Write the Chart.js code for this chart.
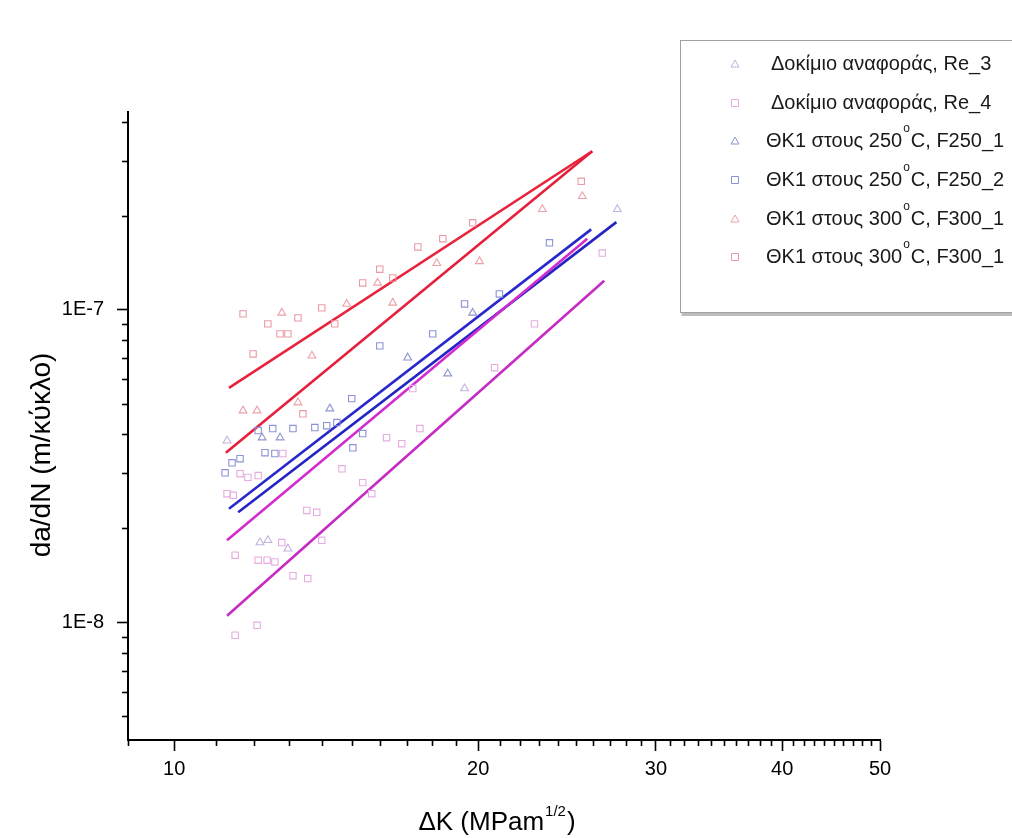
<!DOCTYPE html>
<html>
<head>
<meta charset="utf-8">
<script src="https://cdn.jsdelivr.net/npm/chart.js@4.4.0/dist/chart.umd.min.js"></script>
<style>
  html, body { margin: 0; padding: 0; background: #fff; }
  #wrap { width: 1012px; height: 838px; position: relative; overflow: hidden; }
</style>
</head>
<body>
<div id="wrap"><canvas id="c" width="1012" height="838"></canvas></div>
<script>
// Series names (legend order)
const seriesLabels = [
  'Δοκίμιο αναφοράς, Re_3',
  'Δοκίμιο αναφοράς, Re_4',
  'ΘΚ1 στους 250°C, F250_1',
  'ΘΚ1 στους 250°C, F250_2',
  'ΘΚ1 στους 300°C, F300_1',
  'ΘΚ1 στους 300°C, F300_1'
];

// Measured crack growth rates: ΔK (MPa·m^1/2) and da/dN (m/cycle)
const re3DK   = [11.28, 12.16, 12.38, 12.96, 19.39, 27.47];
const re3Rate = [3.81e-8, 1.80e-8, 1.83e-8, 1.72e-8, 5.60e-8, 2.10e-7];

const re4DK   = [11.28, 11.44, 11.62, 11.83, 12.11, 12.81, 13.53, 13.84, 11.49, 12.78, 12.11, 12.36, 12.58, 13.11,
                 13.56, 14.00, 11.49, 12.08, 14.66, 15.37, 15.69, 16.23, 16.80, 17.23, 17.51, 20.76, 22.74, 26.54];
const re4Rate = [2.58e-8, 2.55e-8, 2.99e-8, 2.91e-8, 2.95e-8, 3.47e-8, 2.28e-8, 2.25e-8, 1.64e-8, 1.80e-8, 1.58e-8, 1.58e-8, 1.56e-8, 1.41e-8,
                 1.38e-8, 1.83e-8, 9.09e-9, 9.78e-9, 3.10e-8, 2.80e-8, 2.58e-8, 3.90e-8, 3.73e-8, 5.60e-8, 4.17e-8, 6.53e-8, 9.02e-8, 1.52e-7];

const f2501DK   = [12.22, 12.73, 14.26, 17.03, 18.66, 19.75];
const f2501Rate = [3.90e-8, 3.90e-8, 4.83e-8, 7.03e-8, 6.25e-8, 9.78e-8];

const f2502DK   = [11.23, 11.41, 11.62, 12.11, 12.30, 12.52, 12.58, 13.11, 13.78, 14.16, 14.49, 14.99, 15.03, 15.37,
                   15.98, 18.03, 19.39, 20.99, 23.53];
const f2502Rate = [3.01e-8, 3.24e-8, 3.34e-8, 4.11e-8, 3.49e-8, 4.17e-8, 3.47e-8, 4.17e-8, 4.20e-8, 4.26e-8, 4.36e-8, 5.20e-8, 3.62e-8, 4.02e-8,
                   7.67e-8, 8.38e-8, 1.045e-7, 1.125e-7, 1.64e-7];

const f3001DK   = [11.70, 12.08, 12.78, 13.26, 13.69, 14.82, 15.90, 16.46, 18.20, 20.06, 23.15, 25.36];
const f3001Rate = [4.76e-8, 4.76e-8, 9.78e-8, 5.05e-8, 7.13e-8, 1.045e-7, 1.22e-7, 1.053e-7, 1.41e-7, 1.43e-7, 2.10e-7, 2.31e-7];

const f3002DK   = [11.70, 11.97, 12.38, 12.73, 12.96, 13.26, 13.41, 14.00, 14.42, 15.37, 15.98, 16.46, 17.43, 18.45, 19.75, 25.30];
const f3002Rate = [9.71e-8, 7.23e-8, 9.02e-8, 8.38e-8, 8.38e-8, 9.43e-8, 4.65e-8, 1.015e-7, 9.02e-8, 1.22e-7, 1.35e-7, 1.265e-7,
                   1.59e-7, 1.69e-7, 1.90e-7, 2.58e-7];

// Paris-law fit lines (end points)
const fitRe3DK   = [11.28, 25.65];  const fitRe3Rate   = [1.83e-8, 1.69e-7];
const fitRe4DK   = [11.28, 26.66];  const fitRe4Rate   = [1.05e-8, 1.24e-7];
const fitF2501DK = [11.57, 27.41];  const fitF2501Rate = [2.25e-8, 1.91e-7];
const fitF2502DK = [11.33, 25.88];  const fitF2502Rate = [2.31e-8, 1.81e-7];
const fitF3001DK = [11.25, 25.94];  const fitF3001Rate = [3.49e-8, 3.22e-7];
const fitF3002DK = [11.33, 25.94];  const fitF3002Rate = [5.63e-8, 3.22e-7];

// Axis tick labels
const xTickLabels = ['10', '20', '30', '40', '50'];
const yTickLabels = ['1E-8', '1E-7'];

const FONT = "'Liberation Sans', Arial, sans-serif";

function pts(xs, ys) { return xs.map((x, i) => ({ x: x, y: ys[i] })); }

function markerSet(label, xs, ys, style, color) {
  return {
    label: label, data: pts(xs, ys), showLine: false,
    pointStyle: style, pointRadius: 4.5, pointBorderWidth: 1.1,
    pointBorderColor: color, pointBackgroundColor: 'rgba(0,0,0,0)', borderColor: color
  };
}
function fitLine(xs, ys, color) {
  return {
    label: '', data: pts(xs, ys), showLine: true, pointRadius: 0,
    borderColor: color, borderWidth: 2.6, fill: false
  };
}

const datasets = [
  markerSet(seriesLabels[0], re3DK, re3Rate, 'triangle', '#c2b2de'),
  markerSet(seriesLabels[1], re4DK, re4Rate, 'rect', '#e6acdf'),
  markerSet(seriesLabels[2], f2501DK, f2501Rate, 'triangle', '#8e96d2'),
  markerSet(seriesLabels[3], f2502DK, f2502Rate, 'rect', '#8c92d6'),
  markerSet(seriesLabels[4], f3001DK, f3001Rate, 'triangle', '#eca0a8'),
  markerSet(seriesLabels[5], f3002DK, f3002Rate, 'rect', '#ea9aa4'),
  fitLine(fitRe3DK, fitRe3Rate, '#d22cd0'),
  fitLine(fitRe4DK, fitRe4Rate, '#c42cc4'),
  fitLine(fitF2501DK, fitF2501Rate, '#2424c4'),
  fitLine(fitF2502DK, fitF2502Rate, '#2828cc'),
  fitLine(fitF3001DK, fitF3001Rate, '#e4203c'),
  fitLine(fitF3002DK, fitF3002Rate, '#e8243c')
];

const xMajor = xTickLabels.map(Number);
const yMajor = [1e-8, 1e-7];
function isYMajor(v) { return yMajor.some(m => Math.abs(v - m) / m < 1e-6); }

// Short minor ticks, axis titles and the framed legend
const decorations = {
  id: 'decorations',
  afterDraw(chart) {
    const ctx = chart.ctx;
    const xs = chart.scales.x, ys = chart.scales.y;
    const area = chart.chartArea;
    ctx.save();
    ctx.strokeStyle = '#000';
    ctx.lineWidth = 1.6;
    xs.ticks.forEach(t => {
      if (xMajor.includes(t.value)) return;
      const px = Math.round(xs.getPixelForValue(t.value)) + 0.5;
      ctx.beginPath(); ctx.moveTo(px, area.bottom); ctx.lineTo(px, area.bottom + 6); ctx.stroke();
    });
    ys.ticks.forEach(t => {
      if (isYMajor(t.value)) return;
      const py = Math.round(ys.getPixelForValue(t.value)) + 0.5;
      ctx.beginPath(); ctx.moveTo(area.left, py); ctx.lineTo(area.left - 6, py); ctx.stroke();
    });

    // x title with superscript
    ctx.fillStyle = '#000';
    ctx.textBaseline = 'alphabetic';
    const main = 'ΔK (MPam', sup = '1/2', tail = ')';
    const big = '26px ' + FONT, small = '15px ' + FONT;
    ctx.font = big;
    const w1 = ctx.measureText(main).width, w3 = ctx.measureText(tail).width;
    ctx.font = small;
    const w2 = ctx.measureText(sup).width;
    const x0 = 497 - (w1 + w2 + w3 + 2) / 2;
    const by = 830;
    ctx.textAlign = 'left';
    ctx.font = big;
    ctx.fillText(main, x0, by);
    ctx.font = small;
    ctx.fillText(sup, x0 + w1 + 1, by - 14);
    ctx.font = big;
    ctx.fillText(tail, x0 + w1 + w2 + 2, by);

    // y title
    ctx.save();
    ctx.translate(50, 455);
    ctx.rotate(-Math.PI / 2);
    ctx.textAlign = 'center';
    ctx.font = '28px ' + FONT;
    ctx.fillText('da/dN (m/κύκλο)', 0, 0);
    ctx.restore();

    // legend frame
    const lx = 680.5, ly = 40.5, lw = 400, lh = 272;
    ctx.fillStyle = '#fff';
    ctx.fillRect(lx, ly, lw, lh);
    ctx.strokeStyle = '#a0a0a0';
    ctx.lineWidth = 1;
    ctx.strokeRect(lx, ly, lw, lh);
    ctx.fillStyle = '#bdbdbd';
    ctx.fillRect(lx + 1, ly + lh + 0.5, lw, 3);

    const rowY = [64, 103, 141, 180, 219, 257];
    for (let i = 0; i < 6; i++) {
      const ds = chart.data.datasets[i];
      const cy = rowY[i];
      ctx.strokeStyle = ds.pointBorderColor;
      ctx.lineWidth = 1;
      ctx.beginPath();
      if (ds.pointStyle === 'rect') { ctx.rect(731.5, cy - 3.5, 7, 7); }
      else { ctx.moveTo(735, cy - 4); ctx.lineTo(739, cy + 3); ctx.lineTo(731, cy + 3); ctx.closePath(); }
      ctx.stroke();

      ctx.fillStyle = '#1a1a1a';
      ctx.font = '20px ' + FONT;
      ctx.textAlign = 'left';
      ctx.textBaseline = 'middle';
      const label = ds.label;
      const k = label.indexOf('°');
      let tx = 766;
      if (k < 0) {
        ctx.fillText(label, tx + 5, cy);
      } else {
        const a = label.slice(0, k), b = label.slice(k + 1);
        ctx.fillText(a, tx, cy);
        tx += ctx.measureText(a).width + 1;
        ctx.font = '12px ' + FONT;
        ctx.fillText('o', tx, cy - 12);
        tx += ctx.measureText('o').width + 1;
        ctx.font = '20px ' + FONT;
        ctx.fillText(b, tx, cy);
      }
    }
    ctx.restore();
  }
};

new Chart(document.getElementById('c'), {
  type: 'scatter',
  data: { datasets: datasets },
  plugins: [decorations],
  options: {
    responsive: false,
    animation: false,
    devicePixelRatio: 1,
    layout: { padding: { top: 112, right: 132, left: 0, bottom: 0 } },
    plugins: { legend: { display: false }, tooltip: { enabled: false } },
    scales: {
      x: {
        type: 'logarithmic', position: 'bottom', min: 9, max: 50,
        afterBuildTicks(scale) {
          const t = [];
          for (let v = 9; v <= 50; v++) t.push({ value: v });
          scale.ticks = t;
        },
        afterFit(scale) { scale.height = 98; },
        border: { display: true, color: '#000', width: 2 },
        grid: {
          display: true, drawOnChartArea: false, drawTicks: true, tickLength: 11, tickWidth: 1.6,
          tickColor: c => (c.tick && xMajor.includes(c.tick.value)) ? '#000' : 'rgba(0,0,0,0)'
        },
        ticks: {
          autoSkip: false, maxRotation: 0, minRotation: 0, padding: 6, color: '#000',
          font: { family: FONT, size: 20 },
          callback: v => xTickLabels.includes(String(v)) ? String(v) : ''
        },
        title: { display: false }
      },
      y: {
        type: 'logarithmic', position: 'left', min: 4.2e-9, max: 4.3e-7,
        afterBuildTicks(scale) {
          const t = [];
          for (let e = -9; e <= -7; e++) {
            for (let k = 1; k <= 9; k++) {
              const v = k * Math.pow(10, e);
              if (v >= 4.2e-9 && v <= 4.3e-7) t.push({ value: v });
            }
          }
          scale.ticks = t;
        },
        afterFit(scale) { scale.width = 128; },
        border: { display: true, color: '#000', width: 2 },
        grid: {
          display: true, drawOnChartArea: false, drawTicks: true, tickLength: 11, tickWidth: 1.6,
          tickColor: c => (c.tick && isYMajor(c.tick.value)) ? '#000' : 'rgba(0,0,0,0)'
        },
        ticks: {
          autoSkip: false, padding: 13, color: '#000',
          font: { family: FONT, size: 20 },
          callback: v => {
            if (!isYMajor(v)) return '';
            return yTickLabels[yMajor.findIndex(m => Math.abs(v - m) / m < 1e-6)];
          }
        },
        title: { display: false }
      }
    }
  }
});
</script>
</body>
</html>
